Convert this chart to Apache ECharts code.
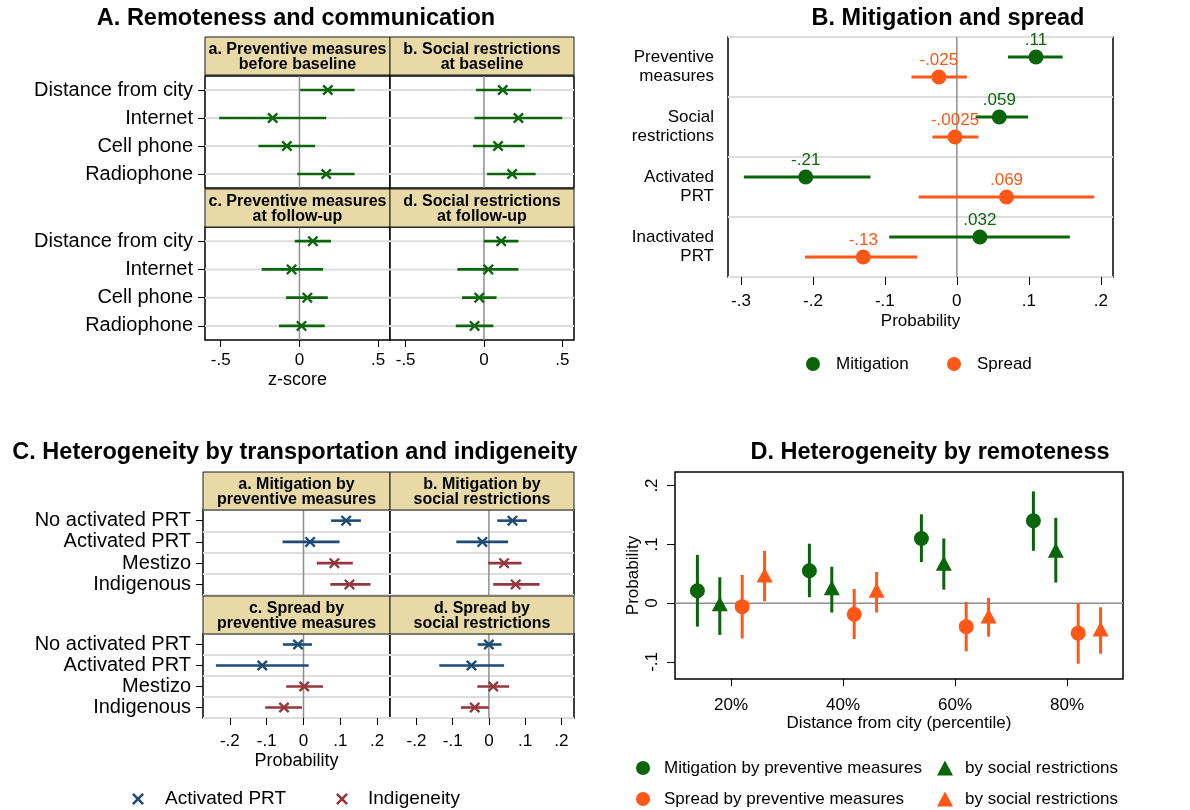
<!DOCTYPE html>
<html>
<head>
<meta charset="utf-8">
<script src="https://cdn.jsdelivr.net/npm/echarts@6/dist/echarts.min.js"></script>
<style>
  html, body { margin: 0; padding: 0; background: #fff; }
  #chart { width: 1190px; height: 810px; }
</style>
</head>
<body>
<div id="chart"></div>
<script>
// ---------- Panel A: remoteness and communication (z-scores) ----------
const commRows = ['Distance from city', 'Internet', 'Cell phone', 'Radiophone'];
const commHeaders = [
  'a. Preventive measures\nbefore baseline', 'b. Social restrictions\nat baseline',
  'c. Preventive measures\nat follow-up', 'd. Social restrictions\nat follow-up'
];
const zTicks = [-0.5, 0, 0.5];
const prevBaseEst = [0.18, -0.17, -0.08, 0.17];
const prevBaseLo  = [0.005, -0.51, -0.26, -0.015];
const prevBaseHi  = [0.35, 0.17, 0.10, 0.35];
const socBaseEst  = [0.12, 0.22, 0.09, 0.18];
const socBaseLo   = [-0.05, -0.06, -0.07, 0.02];
const socBaseHi   = [0.30, 0.50, 0.26, 0.33];
const prevFollowEst = [0.085, -0.05, 0.05, 0.013];
const prevFollowLo  = [-0.03, -0.24, -0.085, -0.13];
const prevFollowHi  = [0.20, 0.15, 0.18, 0.16];
const socFollowEst  = [0.11, 0.028, -0.03, -0.06];
const socFollowLo   = [0.0, -0.17, -0.14, -0.18];
const socFollowHi   = [0.22, 0.22, 0.08, 0.06];

// ---------- Panel B: mitigation and spread ----------
const spreadRows = ['Preventive\nmeasures', 'Social\nrestrictions', 'Activated\nPRT', 'Inactivated\nPRT'];
const probTicksB = [-0.3, -0.2, -0.1, 0, 0.1, 0.2];
const mitigationEst = [0.11, 0.059, -0.21, 0.032];
const mitigationLo  = [0.071, 0.026, -0.296, -0.094];
const mitigationHi  = [0.147, 0.099, -0.12, 0.157];
const spreadEst = [-0.025, -0.0025, 0.069, -0.13];
const spreadLo  = [-0.063, -0.034, -0.053, -0.211];
const spreadHi  = [0.014, 0.030, 0.191, -0.055];

// ---------- Panel C: transportation and indigeneity ----------
const groupRows = ['No activated PRT', 'Activated PRT', 'Mestizo', 'Indigenous'];
const groupHeaders = [
  'a. Mitigation by\npreventive measures', 'b. Mitigation by\nsocial restrictions',
  'c. Spread by\npreventive measures', 'd. Spread by\nsocial restrictions'
];
const probTicksC = [-0.2, -0.1, 0, 0.1, 0.2];
const mitPrevEst = [0.116, 0.018, 0.084, 0.125];
const mitPrevLo  = [0.075, -0.057, 0.036, 0.073];
const mitPrevHi  = [0.156, 0.098, 0.134, 0.182];
const mitSocEst  = [0.065, -0.018, 0.042, 0.074];
const mitSocLo   = [0.023, -0.09, -0.002, 0.012];
const mitSocHi   = [0.105, 0.053, 0.09, 0.14];
const sprPrevEst = [-0.015, -0.112, 0.002, -0.053];
const sprPrevLo  = [-0.056, -0.238, -0.047, -0.104];
const sprPrevHi  = [0.023, 0.014, 0.053, -0.004];
const sprSocEst  = [0.0, -0.048, 0.012, -0.039];
const sprSocLo   = [-0.031, -0.137, -0.032, -0.077];
const sprSocHi   = [0.035, 0.042, 0.056, 0.0];
const transportIdx = [0, 1];   // rows coloured as "Activated PRT"
const ethnicIdx = [2, 3];      // rows coloured as "Indigeneity"

// ---------- Panel D: heterogeneity by remoteness ----------
const pctTicks = [20, 40, 60, 80];
const probTicksD = [-0.1, 0, 0.1, 0.2];
const mitPrevPct = [14, 34, 54, 74];
const mitPrevD   = [0.021, 0.055, 0.110, 0.140];
const mitPrevDLo = [-0.040, 0.010, 0.070, 0.089];
const mitPrevDHi = [0.082, 0.101, 0.151, 0.190];
const mitSocPct  = [18, 38, 58, 78];
const mitSocD    = [-0.001, 0.026, 0.068, 0.090];
const mitSocDLo  = [-0.054, -0.016, 0.023, 0.035];
const mitSocDHi  = [0.044, 0.062, 0.110, 0.145];
const sprPrevPct = [22, 42, 62, 82];
const sprPrevD   = [-0.006, -0.019, -0.040, -0.051];
const sprPrevDLo = [-0.060, -0.061, -0.082, -0.103];
const sprPrevDHi = [0.048, 0.024, 0.002, 0.0];
const sprSocPct  = [26, 46, 66, 86];
const sprSocD    = [0.048, 0.022, -0.022, -0.044];
const sprSocDLo  = [0.003, -0.016, -0.057, -0.086];
const sprSocDHi  = [0.089, 0.053, 0.009, -0.007];

// ---------- styling ----------
const FONT = '"Liberation Sans", Arial, Helvetica, sans-serif';
const GREEN = '#0a650a', ORANGE = '#fe5716', BLUE = '#1d4b75', RED = '#94363d';
const TAN = '#e7daa6', ZERO = '#8e8e8e', ROWLINE = '#dddddd';
const X_PATH = 'path://M0,1.5L1.5,0L5,3.5L8.5,0L10,1.5L6.5,5L10,8.5L8.5,10L5,6.5L1.5,10L0,8.5L3.5,5Z';

// Stata-style numbers: drop the leading zero (.5, -.025)
const fmt = v => String(v).replace(/^(-?)0\./, '$1.');

const grids = [], xAxes = [], yAxes = [], series = [], graphics = [], legends = [];

function addGrid(r) {
  grids.push({ left: r[0], top: r[1], width: r[2], height: r[3], show: true,
    backgroundColor: '#fff', borderColor: '#000', borderWidth: 1.5 });
  return grids.length - 1;
}
function header(r, text) {
  graphics.push({ type: 'rect', shape: { x: r[0], y: r[1], width: r[2], height: r[3] },
    style: { fill: TAN, stroke: '#1a1a1a', lineWidth: 1 }, z: 10 });
  graphics.push({ type: 'text', z: 11, style: { text, x: r[0] + r[2] / 2, y: r[1] + r[3] / 2 + 1,
    textAlign: 'center', textVerticalAlign: 'middle', align: 'center', verticalAlign: 'middle',
    font: 'bold 16px ' + FONT, lineHeight: 15, fill: '#000' } });
}
function title(x, y, text) {
  graphics.push({ type: 'text', z: 11, style: { text, x, y, textAlign: 'center', textVerticalAlign: 'middle',
    align: 'center', verticalAlign: 'middle', font: 'bold 23.5px ' + FONT, fill: '#000' } });
}
const tickLabel = { color: '#000', fontSize: 17, fontFamily: FONT };
const axisName = { color: '#000', fontSize: 17, fontFamily: FONT };
const bigLabel = { color: '#000', fontSize: 20, fontFamily: FONT };

// zero reference line (vertical) drawn from the value 0 of the x axis
function zeroV(xi, yi) {
  series.push({ type: 'custom', xAxisIndex: xi, yAxisIndex: yi, silent: true, z: 1,
    data: [[0, 0]],
    renderItem: (p, api) => {
      const x = api.coord([api.value(0), 0])[0], cs = p.coordSys;
      return { type: 'line', shape: { x1: x, y1: cs.y, x2: x, y2: cs.y + cs.height },
        style: { stroke: ZERO, lineWidth: 1.5 } };
    } });
}

// one forest sub-panel (panels A and C)
function forest(o) {
  const g = addGrid(o.rect);
  header(o.head, o.headText);
  xAxes.push({ type: 'value', gridIndex: g, min: o.range[0], max: o.range[1],
    axisLine: { show: false, onZero: false }, splitLine: { show: false },
    axisTick: { show: o.showX, customValues: o.ticks, length: 7, lineStyle: { color: '#000', width: 1 } },
    axisLabel: { show: o.showX, customValues: o.ticks, formatter: fmt, margin: o.xMargin, ...tickLabel },
    name: o.xName || '', nameLocation: 'middle', nameGap: o.nameGap || 30,
    nameTextStyle: { ...axisName, fontSize: 18 } });
  yAxes.push({ type: 'category', gridIndex: g, data: o.rows, inverse: true, boundaryGap: true,
    axisLine: { show: false, onZero: false },
    axisTick: { show: o.showY, interval: 0, alignWithLabel: true, length: 7, lineStyle: { color: '#000', width: 1 } },
    axisLabel: { show: o.showY, interval: 0, margin: 12, ...bigLabel },
    splitLine: { show: !!o.bandLines, interval: 0, lineStyle: { color: ROWLINE, width: 2 } } });
  const xi = xAxes.length - 1, yi = yAxes.length - 1;
  if (o.centerLines) {
    series.push({ type: 'custom', xAxisIndex: xi, yAxisIndex: yi, silent: true, z: 1,
      data: o.rows.map((r, i) => [0, i]),
      renderItem: (p, api) => {
        const y = api.coord([0, api.value(1)])[1], cs = p.coordSys;
        return { type: 'line', shape: { x1: cs.x, y1: y, x2: cs.x + cs.width, y2: y },
          style: { stroke: ROWLINE, lineWidth: 2 } };
      } });
  }
  zeroV(xi, yi);
  series.push({ type: 'custom', xAxisIndex: xi, yAxisIndex: yi, silent: true, z: 2,
    encode: { x: [0, 1], y: 2 },
    data: o.rows.map((r, i) => [o.lo[i], o.hi[i], i]),
    renderItem: (p, api) => {
      const row = api.value(2);
      const a = api.coord([api.value(0), row]), b = api.coord([api.value(1), row]);
      return { type: 'line', shape: { x1: a[0], y1: a[1], x2: b[0], y2: b[1] },
        style: { stroke: o.colorOf(p.dataIndex), lineWidth: 2.6 } };
    } });
  o.groups.forEach(grp => {
    series.push({ type: 'scatter', name: grp.name, xAxisIndex: xi, yAxisIndex: yi, z: 3,
      symbol: X_PATH, symbolSize: o.markSize, itemStyle: { color: grp.color, opacity: 1 }, silent: true,
      data: grp.idx.map(i => [o.est[i], i]) });
  });
}

// ---------- Panel A ----------
title(296, 19, 'A. Remoteness and communication');
const rangeA = [-0.6, 0.575];
const commSets = [
  [prevBaseEst, prevBaseLo, prevBaseHi], [socBaseEst, socBaseLo, socBaseHi],
  [prevFollowEst, prevFollowLo, prevFollowHi], [socFollowEst, socFollowLo, socFollowHi]
];
const rectsA = [[205, 76, 185, 112], [390, 76, 184, 112], [205, 227, 185, 113], [390, 227, 184, 113]];
const headsA = [[205, 37, 185, 38], [390, 37, 184, 38], [205, 189, 185, 38], [390, 189, 184, 38]];
commSets.forEach((s, k) => forest({
  rect: rectsA[k], head: headsA[k], headText: commHeaders[k], rows: commRows,
  est: s[0], lo: s[1], hi: s[2], range: rangeA, ticks: zTicks,
  showX: k >= 2, showY: k % 2 === 0, xMargin: 12, xName: k === 2 ? 'z-score' : '', nameGap: 31,
  centerLines: true, bandLines: false, colorOf: () => GREEN, markSize: 11,
  groups: [{ name: 'Remoteness', color: GREEN, idx: [0, 1, 2, 3] }]
}));

// ---------- Panel C ----------
title(295, 453, 'C. Heterogeneity by transportation and indigeneity');
const rangeC = [-0.273, 0.235];
const groupSets = [
  [mitPrevEst, mitPrevLo, mitPrevHi], [mitSocEst, mitSocLo, mitSocHi],
  [sprPrevEst, sprPrevLo, sprPrevHi], [sprSocEst, sprSocLo, sprSocHi]
];
const rectsC = [[203, 510, 187, 85], [390, 510, 184, 85], [203, 634, 187, 84], [390, 634, 184, 84]];
const headsC = [[203, 472, 187, 38], [390, 472, 184, 38], [203, 596, 187, 38], [390, 596, 184, 38]];
groupSets.forEach((s, k) => forest({
  rect: rectsC[k], head: headsC[k], headText: groupHeaders[k], rows: groupRows,
  est: s[0], lo: s[1], hi: s[2], range: rangeC, ticks: probTicksC,
  showX: k >= 2, showY: k % 2 === 0, xMargin: 15, xName: k === 2 ? 'Probability' : '', nameGap: 34,
  centerLines: false, bandLines: true, markSize: 11,
  colorOf: i => (transportIdx.includes(i) ? BLUE : RED),
  groups: [{ name: 'Activated PRT', color: BLUE, idx: transportIdx },
           { name: 'Indigeneity', color: RED, idx: ethnicIdx }]
}));
legends.push({ data: ['Activated PRT'], left: 132, top: 789, padding: 0, itemWidth: 12, itemHeight: 12,
  textStyle: { ...tickLabel, fontSize: 19, lineHeight: 20, padding: [0, 0, 0, 16] } });
legends.push({ data: ['Indigeneity'], left: 336, top: 789, padding: 0, itemWidth: 12, itemHeight: 12,
  textStyle: { ...tickLabel, fontSize: 19, lineHeight: 20, padding: [0, 0, 0, 15] } });

// ---------- Panel B ----------
title(948, 19, 'B. Mitigation and spread');
{
  const g = addGrid([728, 37, 385, 240]);
  xAxes.push({ type: 'value', gridIndex: g, min: -0.318, max: 0.217,
    axisLine: { show: false, onZero: false }, splitLine: { show: false },
    axisTick: { customValues: probTicksB, length: 8, lineStyle: { color: '#000' } },
    axisLabel: { customValues: probTicksB, formatter: fmt, margin: 16, ...tickLabel },
    name: 'Probability', nameLocation: 'middle', nameGap: 36, nameTextStyle: axisName });
  const xi = xAxes.length - 1;
  yAxes.push({ type: 'category', gridIndex: g, data: spreadRows, inverse: true,
    axisLine: { show: false, onZero: false },
    axisTick: { alignWithLabel: true, interval: 0, length: 8, lineStyle: { color: '#000' } },
    axisLabel: { margin: 14, interval: 0, lineHeight: 19, ...tickLabel },
    splitLine: { show: true, interval: 0, lineStyle: { color: ROWLINE, width: 2 } } });
  // hidden value axis used to dodge the two estimates inside each row
  yAxes.push({ type: 'value', gridIndex: g, min: 0, max: 4, inverse: true, show: false,
    axisLine: { onZero: false }, splitLine: { show: false } });
  const yi = yAxes.length - 1;
  zeroV(xi, yi);
  const dodge = 1 / 6;
  const sets = [
    { name: 'Mitigation', color: GREEN, est: mitigationEst, lo: mitigationLo, hi: mitigationHi, off: -dodge },
    { name: 'Spread', color: ORANGE, est: spreadEst, lo: spreadLo, hi: spreadHi, off: dodge }
  ];
  sets.forEach(s => {
    series.push({ type: 'custom', xAxisIndex: xi, yAxisIndex: yi, silent: true, z: 2,
      encode: { x: [0, 1], y: 2 },
      data: s.est.map((v, i) => [s.lo[i], s.hi[i], i + 0.5 + s.off]),
      renderItem: (p, api) => {
        const a = api.coord([api.value(0), api.value(2)]), b = api.coord([api.value(1), api.value(2)]);
        return { type: 'line', shape: { x1: a[0], y1: a[1], x2: b[0], y2: b[1] },
          style: { stroke: s.color, lineWidth: 3 } };
      } });
    series.push({ type: 'scatter', name: s.name, xAxisIndex: xi, yAxisIndex: yi, z: 3,
      symbol: 'circle', symbolSize: 15, itemStyle: { color: s.color, opacity: 1 }, silent: true,
      label: { show: true, position: 'top', distance: 1, color: s.color, fontSize: 17, fontFamily: FONT,
        formatter: p => fmt(p.value[0]) },
      data: s.est.map((v, i) => [v, i + 0.5 + s.off]) });
  });
  legends.push({ data: ['Mitigation'], left: 806, top: 354, padding: 0, itemWidth: 14, itemHeight: 14,
    textStyle: { ...tickLabel, lineHeight: 20, padding: [0, 0, 0, 11] } });
  legends.push({ data: ['Spread'], left: 947, top: 354, padding: 0, itemWidth: 14, itemHeight: 14,
    textStyle: { ...tickLabel, lineHeight: 20, padding: [0, 0, 0, 11] } });
}

// ---------- Panel D ----------
title(930, 453, 'D. Heterogeneity by remoteness');
{
  const g = addGrid([675, 472, 448, 207]);
  xAxes.push({ type: 'value', gridIndex: g, min: 10, max: 90,
    axisLine: { show: false, onZero: false }, splitLine: { show: false },
    axisTick: { customValues: pctTicks, length: 7, lineStyle: { color: '#000' } },
    axisLabel: { customValues: pctTicks, formatter: v => v + '%', margin: 18, ...tickLabel },
    name: 'Distance from city (percentile)', nameLocation: 'middle', nameGap: 35, nameTextStyle: axisName });
  const xi = xAxes.length - 1;
  yAxes.push({ type: 'value', gridIndex: g, min: -0.129, max: 0.223,
    axisLine: { show: false, onZero: false }, splitLine: { show: false },
    axisTick: { customValues: probTicksD, length: 8, lineStyle: { color: '#000' } },
    axisLabel: { customValues: probTicksD, formatter: fmt, rotate: 90, margin: 14, ...tickLabel },
    name: 'Probability', nameLocation: 'middle', nameGap: 33, nameTextStyle: axisName });
  const yi = yAxes.length - 1;
  // horizontal zero line
  series.push({ type: 'custom', xAxisIndex: xi, yAxisIndex: yi, silent: true, z: 1,
    data: [[10, 0]],
    renderItem: (p, api) => {
      const y = api.coord([api.value(0), api.value(1)])[1], cs = p.coordSys;
      return { type: 'line', shape: { x1: cs.x, y1: y, x2: cs.x + cs.width, y2: y },
        style: { stroke: ZERO, lineWidth: 1.5 } };
    } });
  const sets = [
    { name: 'Mitigation by preventive measures', color: GREEN, sym: 'circle', size: 15, x: mitPrevPct, est: mitPrevD, lo: mitPrevDLo, hi: mitPrevDHi },
    { name: 'Mitigation by social restrictions', color: GREEN, sym: 'triangle', size: [16, 15], x: mitSocPct, est: mitSocD, lo: mitSocDLo, hi: mitSocDHi },
    { name: 'Spread by preventive measures', color: ORANGE, sym: 'circle', size: 15, x: sprPrevPct, est: sprPrevD, lo: sprPrevDLo, hi: sprPrevDHi },
    { name: 'Spread by social restrictions', color: ORANGE, sym: 'triangle', size: [16, 15], x: sprSocPct, est: sprSocD, lo: sprSocDLo, hi: sprSocDHi }
  ];
  sets.forEach(s => {
    series.push({ type: 'custom', xAxisIndex: xi, yAxisIndex: yi, silent: true, z: 2,
      encode: { x: 0, y: [1, 2] },
      data: s.x.map((x, i) => [x, s.lo[i], s.hi[i]]),
      renderItem: (p, api) => {
        const a = api.coord([api.value(0), api.value(1)]), b = api.coord([api.value(0), api.value(2)]);
        return { type: 'line', shape: { x1: a[0], y1: a[1], x2: b[0], y2: b[1] },
          style: { stroke: s.color, lineWidth: 3 } };
      } });
    series.push({ type: 'scatter', name: s.name, xAxisIndex: xi, yAxisIndex: yi, z: 3,
      symbol: s.sym, symbolSize: s.size, itemStyle: { color: s.color, opacity: 1 }, silent: true,
      data: s.x.map((x, i) => [x, s.est[i]]) });
  });
  const socialLabel = n => n.replace(/^(Mitigation|Spread) by social/, 'by social');
  legends.push({ data: ['Mitigation by preventive measures', 'Spread by preventive measures'],
    orient: 'vertical', left: 636, top: 758, padding: 0, itemGap: 11, itemWidth: 14, itemHeight: 14,
    textStyle: { ...tickLabel, lineHeight: 20, padding: [0, 0, 0, 9] } });
  legends.push({ data: ['Mitigation by social restrictions', 'Spread by social restrictions'],
    orient: 'vertical', left: 937, top: 758, padding: 0, itemGap: 11, itemWidth: 16, itemHeight: 15,
    formatter: socialLabel,
    textStyle: { ...tickLabel, lineHeight: 20, padding: [0, 0, 0, 7] } });
}

const chart = echarts.init(document.getElementById('chart'), null, { renderer: 'canvas' });
chart.setOption({
  animation: false,
  backgroundColor: '#fff',
  textStyle: { fontFamily: FONT },
  grid: grids, xAxis: xAxes, yAxis: yAxes, series, legend: legends,
  graphic: { elements: graphics }
});
</script>
</body>
</html>
